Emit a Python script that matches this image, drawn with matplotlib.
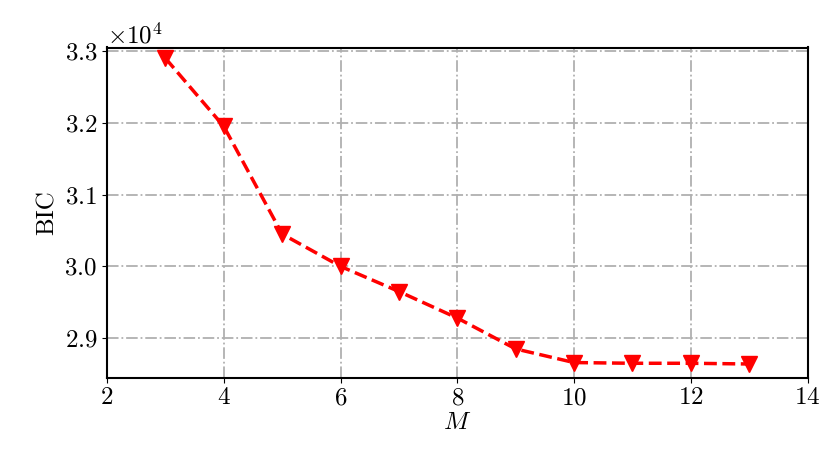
import matplotlib
matplotlib.use("Agg")
import matplotlib.pyplot as plt

plt.rcParams['font.family'] = 'cmr10'
plt.rcParams['mathtext.fontset'] = 'cm'
plt.rcParams['axes.formatter.use_mathtext'] = True
plt.rcParams['font.size'] = 18

M = [3, 4, 5, 6, 7, 8, 9, 10, 11, 12, 13]
bic = [32900, 31950, 30450, 30000, 29650, 29280, 28850, 28660, 28650, 28650, 28640]

fig, ax = plt.subplots(figsize=(8.3, 4.75), dpi=100)
fig.subplots_adjust(left=0.129, right=0.973, top=0.90, bottom=0.205)
ax.plot(M, bic, 'r--v', lw=2.5, ms=12)
ax.set_xlim(2, 14)
ax.set_ylim(28450, 33050)
ax.set_xticks(range(2, 15, 2))
ax.set_yticks([29000, 30000, 31000, 32000, 33000])
ax.ticklabel_format(axis='y', style='sci', scilimits=(4, 4))
ax.yaxis.get_major_formatter().set_useMathText(True)
ax.grid(True, color='#b0b0b0', ls='-.', lw=1.3)
for s in ax.spines.values():
    s.set_linewidth(1.5)
ax.set_xlabel('$M$', labelpad=2)
ax.set_ylabel('BIC')
fig.savefig('out.png', dpi=100)
